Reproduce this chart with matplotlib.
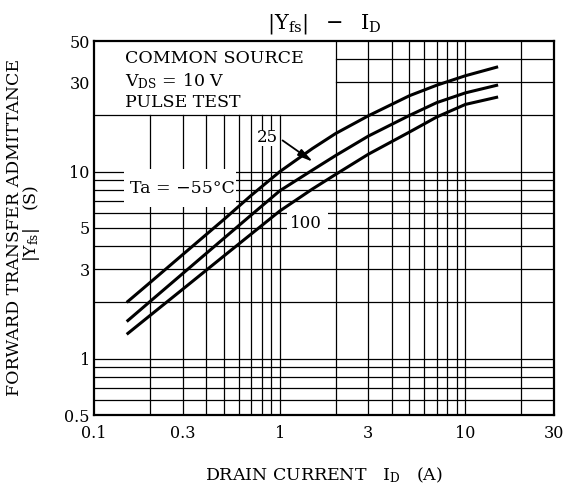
import numpy as np
import matplotlib.pyplot as plt
from matplotlib.patches import Rectangle

plt.rcParams['font.family'] = 'DejaVu Serif'
plt.rcParams['mathtext.fontset'] = 'dejavuserif'

# drain current (A) vs forward transfer admittance |Yfs| (S), one list per Ta
i_d = [0.15, 0.2, 0.3, 0.5, 0.7, 1, 1.5, 2, 3, 5, 7, 10, 15]
yfs_m55 = [2.0, 2.55, 3.6, 5.55, 7.45, 10.0, 13.3, 16.0, 19.9, 25.5, 29.0, 32.6, 36.4]
yfs_25 = [1.58, 2.02, 2.85, 4.4, 5.85, 7.9, 10.2, 12.2, 15.5, 20.0, 23.4, 26.4, 29.1]
yfs_100 = [1.35, 1.70, 2.35, 3.54, 4.63, 6.16, 8.08, 9.67, 12.4, 16.3, 19.6, 22.9, 25.1]

x_ticks = [0.1, 0.3, 1, 3, 10, 30]
x_tick_labels = ["0.1", "0.3", "1", "3", "10", "30"]
y_ticks = [0.5, 1, 3, 5, 10, 30, 50]
y_tick_labels = ["0.5", "1", "3", "5", "10", "30", "50"]

fig = plt.figure(figsize=(5.66, 4.86), dpi=100)
ax = fig.add_axes([94 / 566, 71 / 486, 460 / 566, 374 / 486])
ax.set_xscale('log')
ax.set_yscale('log')
ax.set_xlim(0.1, 30)
ax.set_ylim(0.5, 50)

# log grid, left open in the top-left corner for the condition block
v_lines = [m * d for d in (0.1, 1) for m in range(2, 11)] + [20]
h_lines = [m * 0.1 for m in range(6, 11)] + [m * 1.0 for m in range(2, 11)] + [20, 30, 40]
for x in v_lines:
    top = 20 if x < 1.9 else 50
    ax.plot([x, x], [0.5, top], color='black', lw=0.9, zorder=1)
for y in h_lines:
    left = 2 if y > 25 else 0.1
    ax.plot([left, 30], [y, y], color='black', lw=0.9, zorder=1)

# white patches behind the curve labels
for (x0, x1, y0, y1) in [(0.145, 0.58, 6.5, 10.4),
                         (1.10, 1.82, 4.7, 6.4),
                         (0.745, 0.967, 13.7, 16.6)]:
    ax.add_patch(Rectangle((x0, y0), x1 - x0, y1 - y0, facecolor='white',
                           edgecolor='none', zorder=2))

for yfs in (yfs_m55, yfs_25, yfs_100):
    ax.plot(i_d, yfs, color='black', lw=2.2, solid_capstyle='butt', zorder=3)

ax.text(0.1557, 8.1, "Ta = −55°C", fontsize=12.5, ha='left', va='center', zorder=4)
ax.text(0.854, 15.2, "25", fontsize=12, ha='center', va='center', zorder=4)
ax.text(1.385, 5.3, "100", fontsize=12, ha='center', va='center', zorder=4)
ax.annotate("", xy=(1.511, 11.3), xytext=(1.036, 14.7),
            arrowprops=dict(arrowstyle='-|>,head_length=0.9,head_width=0.22',
                            color='black', lw=1.3, shrinkA=0, shrinkB=0),
            zorder=4)

ax.text(0.0667, 0.9527, "COMMON SOURCE", transform=ax.transAxes,
        fontsize=12.5, ha='left', va='center')
ax.text(0.0667, 0.893, r"$\mathrm{V_{DS}}$ = 10 V", transform=ax.transAxes,
        fontsize=12.5, ha='left', va='center')
ax.text(0.0667, 0.835, "PULSE TEST", transform=ax.transAxes,
        fontsize=12.5, ha='left', va='center')

ax.set_xticks(x_ticks)
ax.set_xticklabels(x_tick_labels)
ax.set_yticks(y_ticks)
ax.set_yticklabels(y_tick_labels)
ax.xaxis.set_minor_locator(plt.NullLocator())
ax.yaxis.set_minor_locator(plt.NullLocator())
ax.tick_params(axis='both', length=0, labelsize=11.5)
ax.tick_params(axis='x', pad=7)
ax.tick_params(axis='y', pad=3)
for sp in ax.spines.values():
    sp.set_linewidth(1.6)
    sp.set_zorder(5)

fig.text(324 / 566, 1 - 29 / 486, r"$|\mathrm{Y_{fs}}|\ \ -\ \ \mathrm{I_D}$",
         ha='center', va='baseline', fontsize=15)
fig.text(324 / 566, 6 / 486, r"DRAIN CURRENT   $\mathrm{I_D}$   (A)",
         ha='center', va='baseline', fontsize=12.5)
fig.text(14.5 / 566, 0.531, "FORWARD TRANSFER ADMITTANCE", rotation=90,
         ha='center', va='center', fontsize=12.5)
fig.text(32 / 566, 0.541, r"$|\mathrm{Y_{fs}}|$   (S)", rotation=90,
         ha='center', va='center', fontsize=12.5)

fig.savefig("out.png", dpi=100)
